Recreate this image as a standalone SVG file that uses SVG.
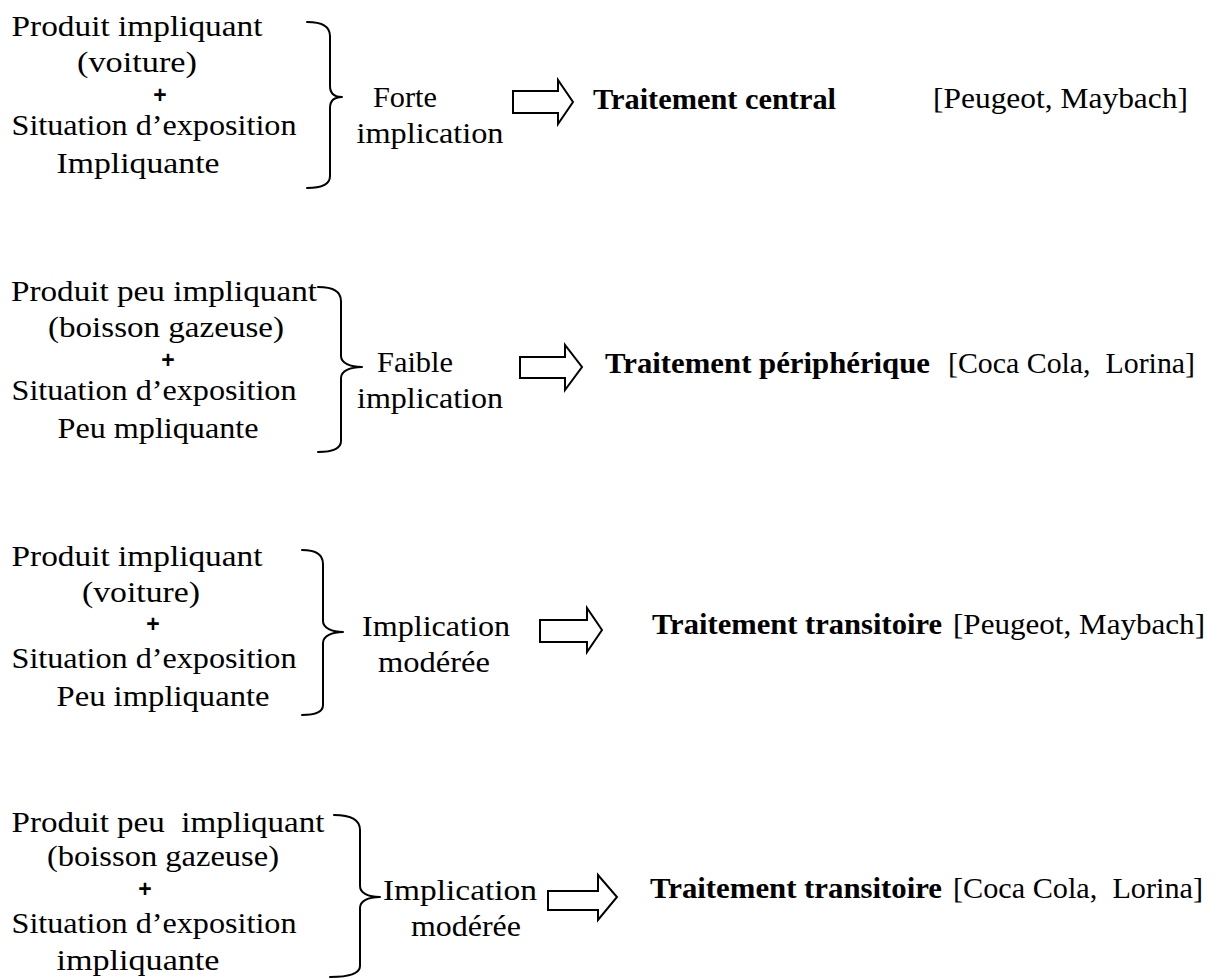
<svg xmlns="http://www.w3.org/2000/svg" width="1218" height="979" viewBox="0 0 1218 979">
<style>
.t{font-family:"Liberation Serif","Times New Roman",serif;font-size:29px;fill:#000;white-space:pre}
.c{text-anchor:middle}
.b{font-weight:bold}
.plus{font-family:"Liberation Sans",Arial,sans-serif;font-weight:bold;font-size:23px;text-anchor:middle;fill:#000}
.brace{fill:none;stroke:#000;stroke-width:2;stroke-linecap:round;stroke-linejoin:round}
.arrow{fill:#fff;stroke:#000;stroke-width:2;stroke-linejoin:miter}
</style>
<rect width="1218" height="979" fill="#fff"/>

<!-- Row 1 -->
<g id="cond1">
<text class="t c" x="137" y="36" textLength="251" lengthAdjust="spacingAndGlyphs">Produit impliquant</text>
<text class="t c" x="137" y="72" textLength="120" lengthAdjust="spacingAndGlyphs">(voiture)</text>
<text class="plus" x="160" y="103">+</text>
<text class="t c" x="154" y="135" textLength="285" lengthAdjust="spacingAndGlyphs">Situation d’exposition</text>
<text class="t c" x="138" y="173" textLength="163" lengthAdjust="spacingAndGlyphs">Impliquante</text>
</g>
<g id="impl1">
<text class="t c" x="405" y="107" textLength="64" lengthAdjust="spacingAndGlyphs">Forte</text>
<text class="t c" x="430" y="143" textLength="147" lengthAdjust="spacingAndGlyphs">implication</text>
</g>
<g id="trait1">
<text class="t b" x="593" y="109" textLength="243" lengthAdjust="spacingAndGlyphs">Traitement central</text>
</g>
<g id="ex1">
<text class="t" x="933" y="108" textLength="255" lengthAdjust="spacingAndGlyphs">[Peugeot, Maybach]</text>
</g>

<!-- Row 2 -->
<g id="cond2">
<text class="t c" x="164" y="301" textLength="306" lengthAdjust="spacingAndGlyphs">Produit peu impliquant</text>
<text class="t c" x="166" y="337" textLength="236" lengthAdjust="spacingAndGlyphs">(boisson gazeuse)</text>
<text class="plus" x="168" y="368">+</text>
<text class="t c" x="154" y="400" textLength="285" lengthAdjust="spacingAndGlyphs">Situation d’exposition</text>
<text class="t c" x="158" y="438" textLength="201" lengthAdjust="spacingAndGlyphs">Peu mpliquante</text>
</g>
<g id="impl2">
<text class="t c" x="415" y="372" textLength="76" lengthAdjust="spacingAndGlyphs">Faible</text>
<text class="t c" x="430" y="408" textLength="146" lengthAdjust="spacingAndGlyphs">implication</text>
</g>
<g id="trait2">
<text class="t b" x="605" y="373" textLength="325" lengthAdjust="spacingAndGlyphs">Traitement périphérique</text>
</g>
<g id="ex2">
<text class="t" x="948" y="373" textLength="247" lengthAdjust="spacingAndGlyphs">[Coca Cola,  Lorina]</text>
</g>

<!-- Row 3 -->
<g id="cond3">
<text class="t c" x="137" y="566" textLength="251" lengthAdjust="spacingAndGlyphs">Produit impliquant</text>
<text class="t c" x="141" y="602" textLength="118" lengthAdjust="spacingAndGlyphs">(voiture)</text>
<text class="plus" x="153" y="632">+</text>
<text class="t c" x="154" y="668" textLength="285" lengthAdjust="spacingAndGlyphs">Situation d’exposition</text>
<text class="t c" x="163" y="706" textLength="213" lengthAdjust="spacingAndGlyphs">Peu impliquante</text>
</g>
<g id="impl3">
<text class="t c" x="436" y="636" textLength="148" lengthAdjust="spacingAndGlyphs">Implication</text>
<text class="t c" x="434" y="672" textLength="112" lengthAdjust="spacingAndGlyphs">modérée</text>
</g>
<g id="trait3">
<text class="t b" x="652" y="634" textLength="290" lengthAdjust="spacingAndGlyphs">Traitement transitoire</text>
</g>
<g id="ex3">
<text class="t" x="953" y="634" textLength="252" lengthAdjust="spacingAndGlyphs">[Peugeot, Maybach]</text>
</g>

<!-- Row 4 -->
<g id="cond4">
<text class="t c" x="168" y="832" textLength="313" lengthAdjust="spacingAndGlyphs">Produit peu  impliquant</text>
<text class="t c" x="163" y="866" textLength="232" lengthAdjust="spacingAndGlyphs">(boisson gazeuse)</text>
<text class="plus" x="145" y="897">+</text>
<text class="t c" x="154" y="933" textLength="285" lengthAdjust="spacingAndGlyphs">Situation d’exposition</text>
<text class="t c" x="138" y="970" textLength="163" lengthAdjust="spacingAndGlyphs">impliquante</text>
</g>
<g id="impl4">
<text class="t c" x="460" y="900" textLength="154" lengthAdjust="spacingAndGlyphs">Implication</text>
<text class="t c" x="466" y="936" textLength="110" lengthAdjust="spacingAndGlyphs">modérée</text>
</g>
<g id="trait4">
<text class="t b" x="650" y="898" textLength="292" lengthAdjust="spacingAndGlyphs">Traitement transitoire</text>
</g>
<g id="ex4">
<text class="t" x="953" y="898" textLength="250" lengthAdjust="spacingAndGlyphs">[Coca Cola,  Lorina]</text>
</g>

<g id="connectors">
<path class="brace" d="M307,22 C322,22 330,26 330,36 L330,86 C330,93 334,97 342,97 C334,97 330,101 330,108 L330,176 C330,184 322,188 307,188"/>
<path class="brace" d="M318,287 C333,287 341,291 341,301 L341,356 C341,363 350,367 362,367 C350,367 341,371 341,378 L341,441 C341,449 333,452 318,452"/>
<path class="brace" d="M302,550 C315,550 323,554 323,564 L323,621 C323,628 332,632 343,632 C332,632 323,636 323,643 L323,705 C323,712 315,715 302,715"/>
<path class="brace" d="M334,815 C352,815 360,820 360,830 L360,886 C360,893 368,897 380,897 C368,897 360,901 360,908 L360,966 C360,973 350,977 330,977"/>
<polygon class="arrow" points="513,91 558,91 558,80 573,102 558,124 558,113 513,113"/>
<polygon class="arrow" points="520,357 565,357 565,345 582,367 565,390 565,378 520,378"/>
<polygon class="arrow" points="540,620 587,620 587,608 602,630 587,652 587,642 540,642"/>
<polygon class="arrow" points="548,891 598,891 598,875 617,897 598,920 598,910 548,910"/>
</g>
</svg>
